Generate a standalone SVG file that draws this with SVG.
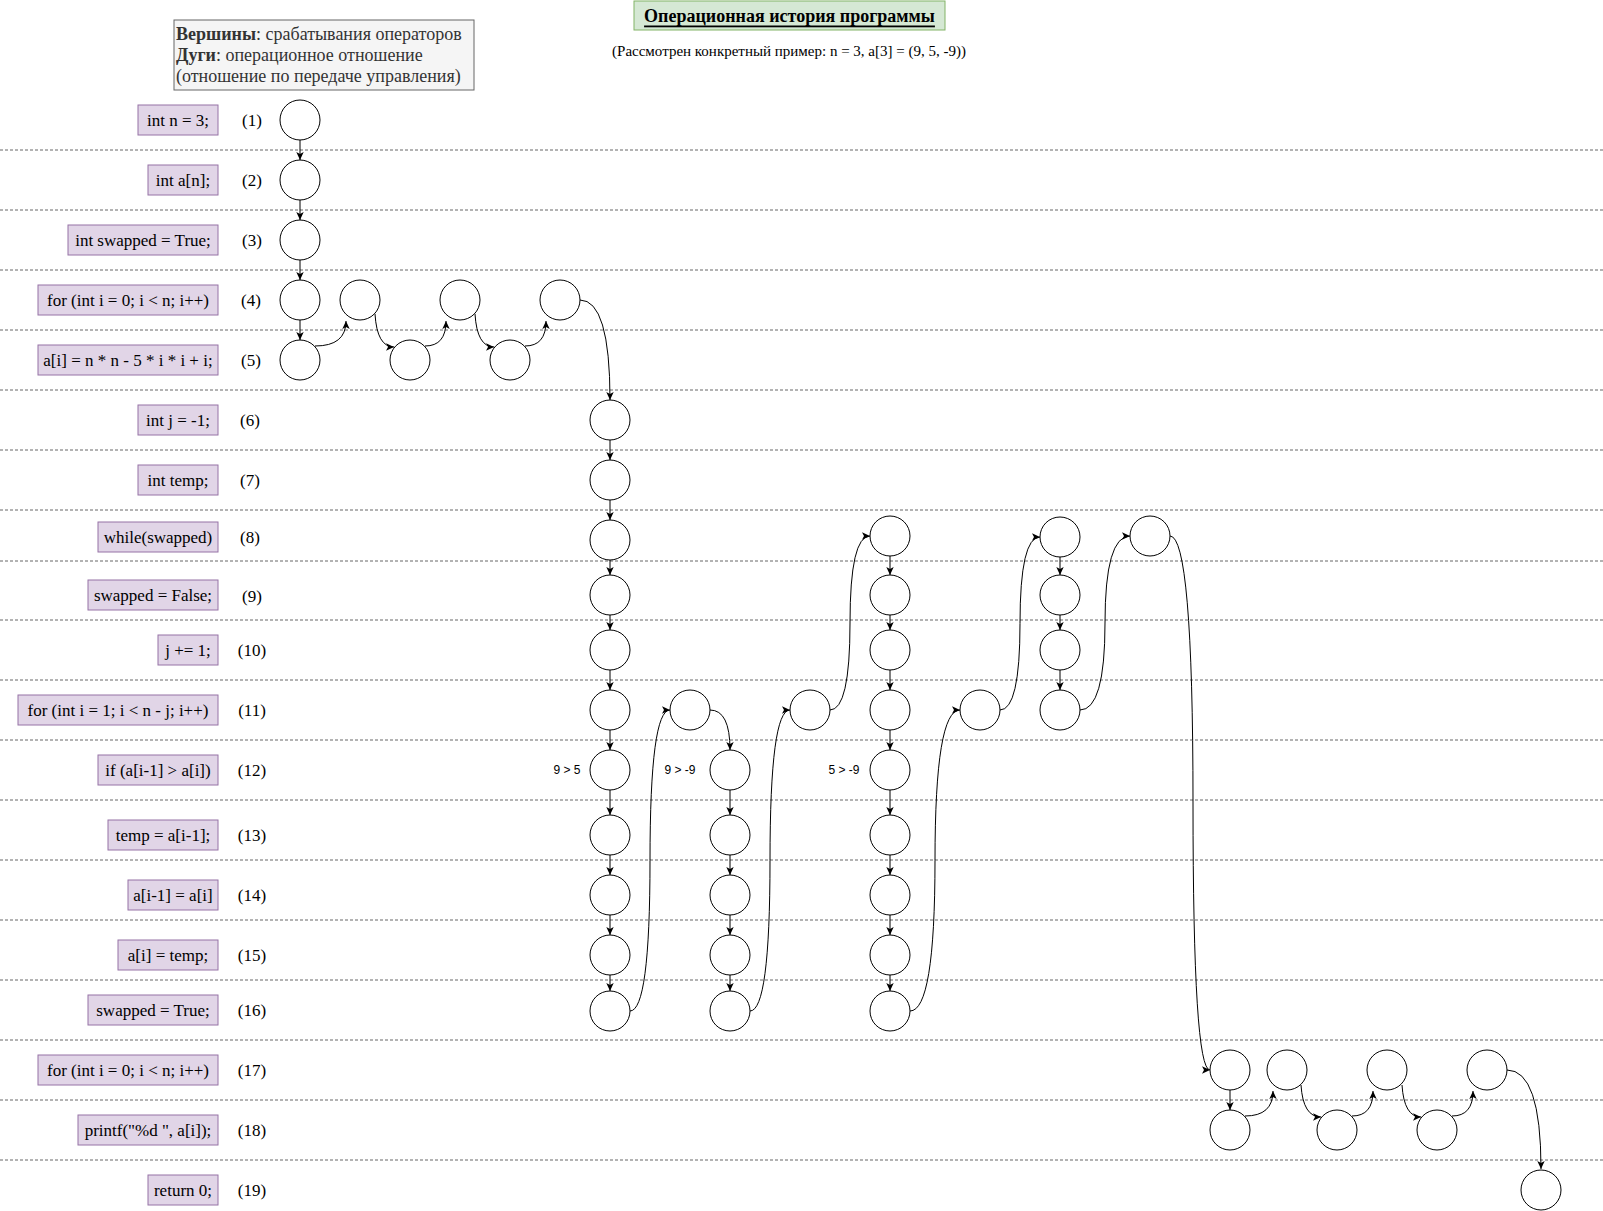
<svg xmlns="http://www.w3.org/2000/svg" width="1603" height="1211" viewBox="0 0 1603 1211">
<defs>
<style>
.sep{stroke:#666666;stroke-width:1;stroke-dasharray:3 2;fill:none}
.lbl{fill:#e1d5e7;stroke:#9673a6;stroke-width:1}
.t{font-family:"Liberation Serif","Times New Roman",serif;font-size:17px;fill:#000;text-anchor:middle;dominant-baseline:central}
.num{font-family:"Liberation Serif","Times New Roman",serif;font-size:17px;fill:#000;text-anchor:middle;dominant-baseline:central}
.cond{font-family:"Liberation Sans",Arial,sans-serif;font-size:12px;fill:#000;text-anchor:middle;dominant-baseline:central}
.n{fill:#fff;stroke:#000;stroke-width:1}
.e{fill:none;stroke:#000;stroke-width:1;marker-end:url(#arr)}
.leg{font-family:"Liberation Serif","Times New Roman",serif;font-size:18px;fill:#333333}
</style>
<marker id="arr" viewBox="0 0 8 8" refX="8" refY="4" markerWidth="8" markerHeight="8" markerUnits="userSpaceOnUse" orient="auto"><path d="M0,0.3 L8,4 L0,7.7 L2,4 Z" fill="#000"/></marker>
</defs>
<rect width="1603" height="1211" fill="#fff"/>

<g id="separators">
<line class="sep" x1="0" y1="150" x2="1603" y2="150"/>
<line class="sep" x1="0" y1="210" x2="1603" y2="210"/>
<line class="sep" x1="0" y1="270" x2="1603" y2="270"/>
<line class="sep" x1="0" y1="330" x2="1603" y2="330"/>
<line class="sep" x1="0" y1="390" x2="1603" y2="390"/>
<line class="sep" x1="0" y1="450" x2="1603" y2="450"/>
<line class="sep" x1="0" y1="510" x2="1603" y2="510"/>
<line class="sep" x1="0" y1="561" x2="1603" y2="561"/>
<line class="sep" x1="0" y1="620" x2="1603" y2="620"/>
<line class="sep" x1="0" y1="680" x2="1603" y2="680"/>
<line class="sep" x1="0" y1="740" x2="1603" y2="740"/>
<line class="sep" x1="0" y1="800" x2="1603" y2="800"/>
<line class="sep" x1="0" y1="860" x2="1603" y2="860"/>
<line class="sep" x1="0" y1="920" x2="1603" y2="920"/>
<line class="sep" x1="0" y1="980" x2="1603" y2="980"/>
<line class="sep" x1="0" y1="1040" x2="1603" y2="1040"/>
<line class="sep" x1="0" y1="1100" x2="1603" y2="1100"/>
<line class="sep" x1="0" y1="1160" x2="1603" y2="1160"/>
</g>

<g id="title">
<rect x="634" y="1" width="311" height="29" fill="#d5e8d4" stroke="#82b366"/>
<text x="789.5" y="15.5" font-family="'Liberation Serif','Times New Roman',serif" font-size="18" font-weight="bold" text-decoration="underline" text-anchor="middle" dominant-baseline="central" fill="#000">Операционная история программы</text>
</g>
<g id="subtitle">
<text x="789" y="51" font-family="'Liberation Serif','Times New Roman',serif" font-size="15" text-anchor="middle" dominant-baseline="central" fill="#000">(Рассмотрен конкретный пример: n = 3, a[3] = (9, 5, -9))</text>
</g>
<g id="legend">
<rect x="174" y="20" width="300" height="70" fill="#f5f5f5" stroke="#666666"/>
<text class="leg" x="176" y="40"><tspan font-weight="bold">Вершины</tspan>: срабатывания операторов</text>
<text class="leg" x="176" y="61"><tspan font-weight="bold">Дуги</tspan>: операционное отношение</text>
<text class="leg" x="176" y="82">(отношение по передаче управления)</text>
</g>

<g id="labels">
<g id="op1"><rect class="lbl" x="138" y="105" width="80" height="30"/><text class="t" x="178" y="120">int n = 3;</text><text class="num" x="252" y="120">(1)</text></g>
<g id="op2"><rect class="lbl" x="148" y="165" width="70" height="30"/><text class="t" x="183" y="180">int a[n];</text><text class="num" x="252" y="180">(2)</text></g>
<g id="op3"><rect class="lbl" x="68" y="225" width="150" height="30"/><text class="t" x="143" y="240">int swapped = True;</text><text class="num" x="252" y="240">(3)</text></g>
<g id="op4"><rect class="lbl" x="38" y="285" width="180" height="30"/><text class="t" x="128" y="300">for (int i = 0; i &lt; n; i++)</text><text class="num" x="251" y="300">(4)</text></g>
<g id="op5"><rect class="lbl" x="38" y="345" width="180" height="30"/><text class="t" x="128" y="360">a[i] = n * n - 5 * i * i + i;</text><text class="num" x="251" y="360">(5)</text></g>
<g id="op6"><rect class="lbl" x="138" y="405" width="80" height="30"/><text class="t" x="178" y="420">int j = -1;</text><text class="num" x="250" y="420">(6)</text></g>
<g id="op7"><rect class="lbl" x="138" y="465" width="80" height="30"/><text class="t" x="178" y="480">int temp;</text><text class="num" x="250" y="480">(7)</text></g>
<g id="op8"><rect class="lbl" x="98" y="522" width="120" height="30"/><text class="t" x="158" y="537">while(swapped)</text><text class="num" x="250" y="537">(8)</text></g>
<g id="op9"><rect class="lbl" x="88" y="580" width="130" height="30"/><text class="t" x="153" y="595">swapped = False;</text><text class="num" x="252" y="596">(9)</text></g>
<g id="op10"><rect class="lbl" x="158" y="635" width="60" height="30"/><text class="t" x="188" y="650">j += 1;</text><text class="num" x="252" y="650">(10)</text></g>
<g id="op11"><rect class="lbl" x="18" y="695" width="200" height="30"/><text class="t" x="118" y="710">for (int i = 1; i &lt; n - j; i++)</text><text class="num" x="252" y="710">(11)</text></g>
<g id="op12"><rect class="lbl" x="98" y="755" width="120" height="30"/><text class="t" x="158" y="770">if (a[i-1] &gt; a[i])</text><text class="num" x="252" y="770">(12)</text></g>
<g id="op13"><rect class="lbl" x="108" y="820" width="110" height="30"/><text class="t" x="163" y="835">temp = a[i-1];</text><text class="num" x="252" y="835">(13)</text></g>
<g id="op14"><rect class="lbl" x="128" y="880" width="90" height="30"/><text class="t" x="173" y="895">a[i-1] = a[i]</text><text class="num" x="252" y="895">(14)</text></g>
<g id="op15"><rect class="lbl" x="118" y="940" width="100" height="30"/><text class="t" x="168" y="955">a[i] = temp;</text><text class="num" x="252" y="955">(15)</text></g>
<g id="op16"><rect class="lbl" x="88" y="995" width="130" height="30"/><text class="t" x="153" y="1010">swapped = True;</text><text class="num" x="252" y="1010">(16)</text></g>
<g id="op17"><rect class="lbl" x="38" y="1055" width="180" height="30"/><text class="t" x="128" y="1070">for (int i = 0; i &lt; n; i++)</text><text class="num" x="252" y="1070">(17)</text></g>
<g id="op18"><rect class="lbl" x="78" y="1115" width="140" height="30"/><text class="t" x="148" y="1130">printf("%d ", a[i]);</text><text class="num" x="252" y="1130">(18)</text></g>
<g id="op19"><rect class="lbl" x="148" y="1175" width="70" height="30"/><text class="t" x="183" y="1190">return 0;</text><text class="num" x="252" y="1190">(19)</text></g>
</g>

<g id="conditions">
<text class="cond" x="567" y="770">9 &gt; 5</text>
<text class="cond" x="680" y="770">9 &gt; -9</text>
<text class="cond" x="844" y="770">5 &gt; -9</text>
</g>

<g id="connectors">
<path class="e" d="M300,140 V160"/>
<path class="e" d="M300,200 V220"/>
<path class="e" d="M300,260 V280"/>
<path class="e" d="M300,320 V340"/>
<path class="e" d="M315,346 Q346,346 346,321"/>
<path class="e" d="M375,314 Q377,347 394,347"/>
<path class="e" d="M425,346 Q446,346 446,321"/>
<path class="e" d="M475,314 Q477,347 494,347"/>
<path class="e" d="M525,346 Q546,346 546,321"/>
<path class="e" d="M580,300 Q610,300 610,400"/>
<path class="e" d="M610,440 V460"/>
<path class="e" d="M610,500 V520"/>
<path class="e" d="M610,560 V575"/>
<path class="e" d="M610,615 V630"/>
<path class="e" d="M610,670 V690"/>
<path class="e" d="M610,730 V750"/>
<path class="e" d="M610,790 V815"/>
<path class="e" d="M610,855 V875"/>
<path class="e" d="M610,915 V935"/>
<path class="e" d="M610,975 V991"/>
<path class="e" d="M630,1011 Q650,1011 650,860.5 Q650,710 670,710"/>
<path class="e" d="M710,710 Q730,710 730,750"/>
<path class="e" d="M730,790 V815"/>
<path class="e" d="M730,855 V875"/>
<path class="e" d="M730,915 V935"/>
<path class="e" d="M730,975 V991"/>
<path class="e" d="M750,1011 Q770,1011 770,860.5 Q770,710 790,710"/>
<path class="e" d="M830,710 Q850,710 850,623 Q850,536 870,536"/>
<path class="e" d="M890,556 V575"/>
<path class="e" d="M890,615 V630"/>
<path class="e" d="M890,670 V690"/>
<path class="e" d="M890,730 V750"/>
<path class="e" d="M890,790 V815"/>
<path class="e" d="M890,855 V875"/>
<path class="e" d="M890,915 V935"/>
<path class="e" d="M890,975 V991"/>
<path class="e" d="M910,1011 Q935,1011 935,860.5 Q935,710 960,710"/>
<path class="e" d="M1000,710 Q1020,710 1020,623.5 Q1020,537 1040,537"/>
<path class="e" d="M1060,557 V575"/>
<path class="e" d="M1060,615 V630"/>
<path class="e" d="M1060,670 V690"/>
<path class="e" d="M1080,710 Q1105,710 1105,623 Q1105,536 1130,536"/>
<path class="e" d="M1170,536 Q1193,536 1193,803 Q1193,1070 1210,1070"/>
<path class="e" d="M1230,1090 V1110"/>
<path class="e" d="M1245,1116 Q1273,1116 1273,1091"/>
<path class="e" d="M1301,1085 Q1303,1117 1321,1117"/>
<path class="e" d="M1352,1116 Q1373,1116 1373,1091"/>
<path class="e" d="M1402,1085 Q1404,1117 1421,1117"/>
<path class="e" d="M1452,1116 Q1473,1116 1473,1091"/>
<path class="e" d="M1507,1070 Q1541,1070 1541,1169"/>
</g>

<g id="nodes">
<circle id="v1" class="n" cx="300" cy="120" r="20"/>
<circle id="v2" class="n" cx="300" cy="180" r="20"/>
<circle id="v3" class="n" cx="300" cy="240" r="20"/>
<circle id="v4a" class="n" cx="300" cy="300" r="20"/>
<circle id="v5a" class="n" cx="300" cy="360" r="20"/>
<circle id="v4b" class="n" cx="360" cy="300" r="20"/>
<circle id="v5b" class="n" cx="410" cy="360" r="20"/>
<circle id="v4c" class="n" cx="460" cy="300" r="20"/>
<circle id="v5c" class="n" cx="510" cy="360" r="20"/>
<circle id="v4d" class="n" cx="560" cy="300" r="20"/>
<circle id="v6" class="n" cx="610" cy="420" r="20"/>
<circle id="v7" class="n" cx="610" cy="480" r="20"/>
<circle id="v8a" class="n" cx="610" cy="540" r="20"/>
<circle id="v9a" class="n" cx="610" cy="595" r="20"/>
<circle id="v10a" class="n" cx="610" cy="650" r="20"/>
<circle id="v11a" class="n" cx="610" cy="710" r="20"/>
<circle id="v12a" class="n" cx="610" cy="770" r="20"/>
<circle id="v13a" class="n" cx="610" cy="835" r="20"/>
<circle id="v14a" class="n" cx="610" cy="895" r="20"/>
<circle id="v15a" class="n" cx="610" cy="955" r="20"/>
<circle id="v16a" class="n" cx="610" cy="1011" r="20"/>
<circle id="v11b" class="n" cx="690" cy="710" r="20"/>
<circle id="v12b" class="n" cx="730" cy="770" r="20"/>
<circle id="v13b" class="n" cx="730" cy="835" r="20"/>
<circle id="v14b" class="n" cx="730" cy="895" r="20"/>
<circle id="v15b" class="n" cx="730" cy="955" r="20"/>
<circle id="v16b" class="n" cx="730" cy="1011" r="20"/>
<circle id="v11c" class="n" cx="810" cy="710" r="20"/>
<circle id="v8b" class="n" cx="890" cy="536" r="20"/>
<circle id="v9b" class="n" cx="890" cy="595" r="20"/>
<circle id="v10b" class="n" cx="890" cy="650" r="20"/>
<circle id="v11d" class="n" cx="890" cy="710" r="20"/>
<circle id="v12c" class="n" cx="890" cy="770" r="20"/>
<circle id="v13c" class="n" cx="890" cy="835" r="20"/>
<circle id="v14c" class="n" cx="890" cy="895" r="20"/>
<circle id="v15c" class="n" cx="890" cy="955" r="20"/>
<circle id="v16c" class="n" cx="890" cy="1011" r="20"/>
<circle id="v11e" class="n" cx="980" cy="710" r="20"/>
<circle id="v8c" class="n" cx="1060" cy="537" r="20"/>
<circle id="v9c" class="n" cx="1060" cy="595" r="20"/>
<circle id="v10c" class="n" cx="1060" cy="650" r="20"/>
<circle id="v11f" class="n" cx="1060" cy="710" r="20"/>
<circle id="v8d" class="n" cx="1150" cy="536" r="20"/>
<circle id="v17a" class="n" cx="1230" cy="1070" r="20"/>
<circle id="v18a" class="n" cx="1230" cy="1130" r="20"/>
<circle id="v17b" class="n" cx="1287" cy="1070" r="20"/>
<circle id="v18b" class="n" cx="1337" cy="1130" r="20"/>
<circle id="v17c" class="n" cx="1387" cy="1070" r="20"/>
<circle id="v18c" class="n" cx="1437" cy="1130" r="20"/>
<circle id="v17d" class="n" cx="1487" cy="1070" r="20"/>
<circle id="v19" class="n" cx="1541" cy="1190" r="20"/>
</g>
</svg>
